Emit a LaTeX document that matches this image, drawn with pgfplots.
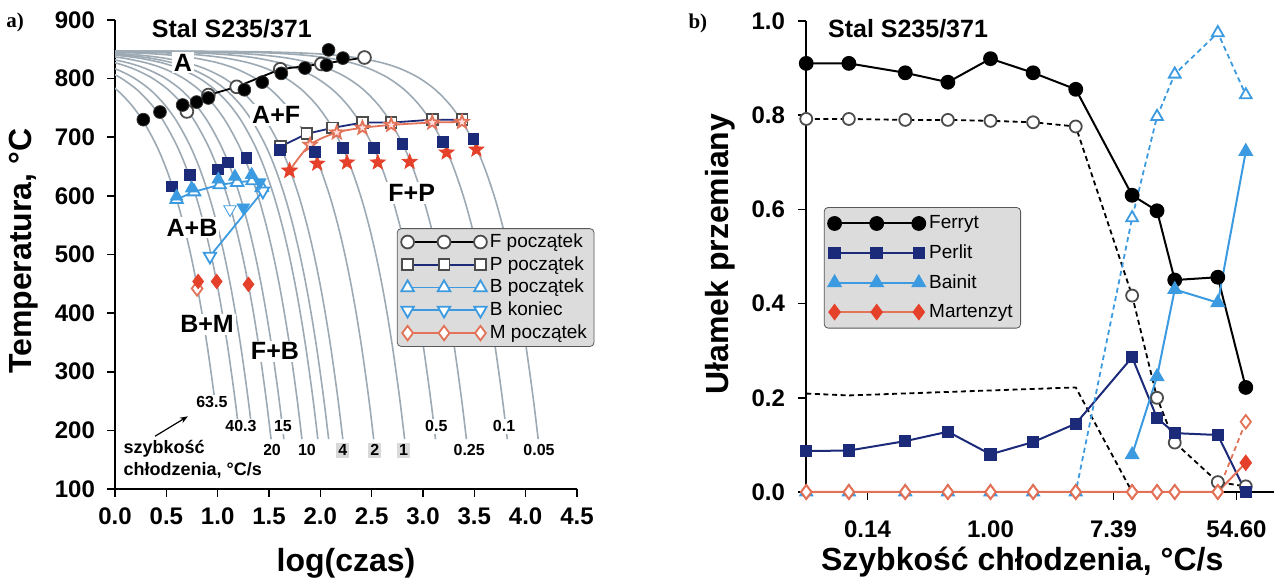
\documentclass[border=0pt]{standalone}
\usepackage{pgfplots}
\pgfplotsset{compat=1.18}
\usepackage{pgfplotstable}
\usepackage{fontspec}
\setmainfont{Liberation Sans}
\newfontfamily\serifb{Liberation Serif}
\usetikzlibrary{arrows.meta}

\definecolor{navy}{HTML}{1C2A7A}
\definecolor{lblue}{HTML}{3C9BE0}
\definecolor{myred}{HTML}{E5402A}
\definecolor{salmon}{HTML}{E27258}
\definecolor{coolc}{HTML}{9DAAB4}
\definecolor{leggray}{HTML}{DCDCDC}

\pgfdeclareplotmark{fstar}{%
  \pgfpathmoveto{\pgfqpointpolar{90}{1.3\pgfplotmarksize}}%
  \pgfpathlineto{\pgfqpointpolar{126}{0.55\pgfplotmarksize}}%
  \pgfpathlineto{\pgfqpointpolar{162}{1.3\pgfplotmarksize}}%
  \pgfpathlineto{\pgfqpointpolar{198}{0.55\pgfplotmarksize}}%
  \pgfpathlineto{\pgfqpointpolar{234}{1.3\pgfplotmarksize}}%
  \pgfpathlineto{\pgfqpointpolar{270}{0.55\pgfplotmarksize}}%
  \pgfpathlineto{\pgfqpointpolar{306}{1.3\pgfplotmarksize}}%
  \pgfpathlineto{\pgfqpointpolar{342}{0.55\pgfplotmarksize}}%
  \pgfpathlineto{\pgfqpointpolar{18}{1.3\pgfplotmarksize}}%
  \pgfpathlineto{\pgfqpointpolar{54}{0.55\pgfplotmarksize}}%
  \pgfpathclose\pgfusepathqfillstroke}

\newcommand\ticfont{\fontsize{12}{12}\selectfont\bfseries}
\newcommand\labfont{\fontsize{16}{16}\selectfont\bfseries}

% base cooling curve: ld = log10(847 - T)
\pgfplotstableread{
ld T
-2.000 846.99
-1.523 846.97
-1.000 846.9
-0.523 846.7
0.000 846
0.301 845
0.602 843
0.845 840
1.079 835
1.301 827
1.477 817
1.653 802
1.813 782
1.954 757
2.079 727
2.204 687
2.301 647
2.398 597
2.477 547
2.544 497
2.602 447
2.653 397
2.699 347
2.724 317
2.748 287
2.771 257
2.789 232
2.806 207
2.821 185
}\coolbase

\newcommand\cool[2]{\addplot[coolc, line width=0.8pt, smooth, forget plot, restrict y to domain=#2:900] table[x expr=\thisrow{ld}-(#1), y=T] {\coolbase};}

\pgfplotsset{
  myaxis/.style={
    scale only axis,
    axis lines*=left,
    axis line style={line width=1.3pt, black},
    tick align=outside,
    major tick length=4pt,
    tick style={line width=0.8pt, black},
    /pgf/number format/assume math mode=true,
    tick label style={font=\ticfont},
    label style={font=\labfont},
  },
}
\tikzset{
  rateL/.style={font=\fontsize{8}{8}\selectfont\bfseries, fill=white, inner sep=1pt},
  rateG/.style={font=\fontsize{8}{8}\selectfont\bfseries, fill=black!15, inner sep=1pt},
  phase/.style={font=\fontsize{12.5}{12.5}\selectfont\bfseries, fill=white, inner sep=1pt},
}

\begin{document}
\begin{tikzpicture}
\path[use as bounding box] (0,0) rectangle (640.5pt,291.5pt);

% ---------------- a) CCT diagram ----------------
\begin{axis}[myaxis,
  at={(57.5pt,47pt)}, anchor=south west,
  width=231pt, height=234.5pt,
  xmin=0, xmax=4.5, ymin=100, ymax=900,
  clip mode=individual,
  xtick={0,0.5,1,1.5,2,2.5,3,3.5,4,4.5},
  ytick={100,200,300,400,500,600,700,800,900},
  xticklabel style={/pgf/number format/fixed, /pgf/number format/fixed zerofill, /pgf/number format/precision=1, yshift=-2pt},
  yticklabel style={xshift=-2.5pt},
  xlabel={log(czas)},
  ylabel={Temperatura, °C},
  xlabel style={at={(axis description cs:0.5,-0.158)}, anchor=center},
  ylabel style={at={(axis description cs:-0.197,0.507)}, anchor=center, rotate=0},
  legend style={at={(axis description cs:0.61,0.556)}, anchor=north west,
    fill=leggray, draw=black!65, rounded corners=2pt,
    font=\fontsize{9.5}{10}\selectfont, inner xsep=2pt, inner ysep=1pt,
    nodes={inner sep=1.5pt}, row sep=0pt},
  legend cell align=left,
  legend image code/.code={\draw[mark repeat=1,mark phase=1,#1] plot coordinates {(0cm,0cm) (0.64cm,0cm) (1.28cm,0cm)};},
]
% cooling curves (log10 of rate, lower end temperature)
\cool{1.803}{256}
\cool{1.605}{206}
\cool{1.477}{206}
\cool{1.301}{184}
\cool{1.176}{184}
\cool{1.000}{184}
\cool{0.845}{184}
\cool{0.740}{184}
\cool{0.602}{184}
\cool{0.301}{184}
\cool{0.000}{184}
\cool{-0.301}{184}
\cool{-0.602}{184}
\cool{-1.000}{184}
\cool{-1.301}{184}

% legend series
\addplot[black, line width=0.9pt, mark=*, mark size=3.2pt, mark options={fill=white, draw=black!70}]
  coordinates {(0.70,744) (0.91,772) (1.185,786) (1.61,816) (2.01,825) (2.43,836)};
\addlegendentry{F początek}
\addplot[navy, line width=0.9pt, mark=square*, mark size=2.7pt, mark options={fill=white, draw=black!70}]
  coordinates {(1.61,684) (1.87,706) (2.12,716) (2.41,725) (2.69,725) (3.09,730) (3.38,730)};
\addlegendentry{P początek}
\addplot[lblue, line width=0.9pt, mark=triangle*, mark size=3.6pt, mark options={fill=white, draw=lblue}]
  coordinates {(0.60,594) (0.77,607) (1.02,619) (1.19,623) (1.34,626) (1.43,614)};
\addlegendentry{B początek}
\addplot[lblue, line width=0.9pt, mark=triangle*, mark size=3.6pt, mark options={fill=white, draw=lblue, rotate=180}]
  coordinates {(0.925,497) (1.44,608)};
\addlegendentry{B koniec}
\addplot[salmon, line width=0.9pt, mark=diamond*, mark size=3.6pt, mark options={fill=white, draw=salmon}]
  coordinates {(0.80,442)};
\addlegendentry{M początek}

% measured points
\addplot[forget plot, salmon, line width=0.9pt, smooth, mark=fstar, mark size=2.6pt, mark options={fill=pink!50!white, draw=salmon}]
  coordinates {(1.70,643) (1.90,687) (2.16,708) (2.41,716) (2.69,721) (3.09,725) (3.38,726)};
\addplot[forget plot, only marks, mark=fstar, mark size=3pt, mark options={fill=myred, draw=myred}]
  coordinates {(1.70,643) (1.97,655) (2.26,657) (2.56,657) (2.87,658) (3.23,674) (3.52,679)};
\addplot[forget plot, only marks, mark=square*, mark size=2.7pt, mark options={fill=navy, draw=navy}]
  coordinates {(1.61,679) (1.95,675) (2.22,682) (2.52,682) (2.80,689) (3.19,692) (3.49,697)
               (0.555,616) (0.73,636) (1.00,645) (1.10,657) (1.28,665)};
\addplot[forget plot, only marks, mark=*, mark size=3.2pt, mark options={fill=black, draw=black!80}]
  coordinates {(0.276,730) (0.438,743) (0.659,755) (0.795,760) (0.909,767) (1.26,781) (1.434,794)
               (1.62,809) (1.85,818) (2.06,823) (2.08,849) (2.22,835)};
\addplot[forget plot, only marks, mark=triangle*, mark size=3.6pt, mark options={fill=lblue, draw=lblue}]
  coordinates {(0.60,599) (0.747,613) (1.006,628) (1.168,633) (1.331,636)};
\addplot[forget plot, only marks, mark=triangle*, mark size=3.6pt, mark options={fill=lblue, draw=lblue, rotate=180}]
  coordinates {(1.25,580) (1.41,623)};
\addplot[forget plot, only marks, mark=triangle*, mark size=3.6pt, mark options={fill=white, draw=lblue, rotate=180}]
  coordinates {(1.12,577)};
\addplot[forget plot, only marks, mark=diamond*, mark size=3.6pt, mark options={fill=myred, draw=myred}]
  coordinates {(0.81,454) (0.99,454) (1.30,449)};

% phase labels
\node[phase] at (axis cs:0.662,827) {A};
\node[phase] at (axis cs:1.57,738) {A+F};
\node[phase] at (axis cs:2.89,605) {F+P};
\node[phase] at (axis cs:0.75,546) {A+B};
\node[phase] at (axis cs:0.896,381) {B+M};
\node[phase] at (axis cs:1.558,335) {F+B};

% cooling rate labels
\node[rateL] at (axis cs:0.944,248) {63.5};
\node[rateL] at (axis cs:1.227,207) {40.3};
\node[rateL] at (axis cs:1.636,207) {15};
\node[rateL] at (axis cs:1.529,166) {20};
\node[rateL] at (axis cs:1.87,166) {10};
\node[rateG] at (axis cs:2.22,166) {4};
\node[rateG] at (axis cs:2.53,166) {2};
\node[rateG] at (axis cs:2.81,166) {1};
\node[rateL] at (axis cs:3.13,207) {0.5};
\node[rateL] at (axis cs:3.45,166) {0.25};
\node[rateL] at (axis cs:3.79,207) {0.1};
\node[rateL] at (axis cs:4.13,166) {0.05};
\node[anchor=north west, align=left, font=\fontsize{9}{11}\selectfont\bfseries, fill=white, inner sep=1pt]
  at (axis cs:0.06,187) {szybkość\\chłodzenia, °C/s};
\draw[-{Stealth[length=4pt]}, line width=0.6pt] (axis cs:0.39,190) -- (axis cs:0.71,224);

\node[font=\fontsize{12.5}{12.5}\selectfont\bfseries] at (axis description cs:0.253,0.981) {Stal S235/371};
\node[font={\serifb\fontsize{10.5}{10.5}\selectfont\bfseries}] at (axis description cs:-0.216,0.994) {a)};
\end{axis}

% ---------------- b) fractions ----------------
\begin{axis}[myaxis,
  at={(403pt,45.5pt)}, anchor=south west,
  width=234pt, height=235.5pt,
  xmin=-3, xmax=4.61, ymin=0, ymax=1,
  clip=false,
  xtick={-2,0,2,4}, xticklabels={0.14,1.00,7.39,54.60},
  ytick={0,0.2,0.4,0.6,0.8,1.0},
  yticklabel style={/pgf/number format/fixed, /pgf/number format/fixed zerofill, /pgf/number format/precision=1, xshift=-3pt},
  xticklabel style={yshift=-7pt},
  xlabel={Szybkość chłodzenia, °C/s},
  ylabel={Ułamek przemiany},
  xlabel style={at={(axis description cs:0.462,-0.149)}, anchor=center},
  ylabel style={at={(axis description cs:-0.184,0.505)}, anchor=center, rotate=0},
  legend style={at={(axis description cs:0.038,0.605)}, anchor=north west,
    fill=leggray, draw=black!65, rounded corners=2pt,
    font=\fontsize{9.5}{10}\selectfont, inner xsep=2pt, inner ysep=2pt,
    nodes={inner sep=2pt}, row sep=2.5pt},
  legend cell align=left,
  legend image code/.code={\draw[mark repeat=1,mark phase=1,#1] plot coordinates {(0cm,0cm) (0.74cm,0cm) (1.48cm,0cm)};},
]
\addplot[forget plot, black, line width=0.9pt, dash pattern=on 2.5pt off 1.8pt]
  coordinates {(-2.996,0.209) (-2.303,0.205) (1.386,0.222) (2.303,0) (4.151,0)};
\addplot[forget plot, black, line width=0.9pt, dash pattern=on 2.5pt off 1.8pt, mark=*, mark size=3pt, mark options={solid, fill=white, draw=black!70}]
  coordinates {(-2.996,0.792) (-2.303,0.792) (-1.386,0.79) (-0.693,0.79) (0,0.788) (0.693,0.785) (1.386,0.776)
               (2.303,0.417) (2.708,0.2) (2.996,0.105) (3.696,0.021) (4.151,0.012)};
\addplot[black, line width=1pt, mark=*, mark size=3.2pt, mark options={fill=black}]
  coordinates {(-2.996,0.91) (-2.303,0.91) (-1.386,0.89) (-0.693,0.87) (0,0.92) (0.693,0.89) (1.386,0.855)
               (2.303,0.63) (2.708,0.597) (2.996,0.45) (3.696,0.456) (4.151,0.222)};
\addlegendentry{Ferryt}
\addplot[navy, line width=1pt, mark=square*, mark size=2.6pt, mark options={fill=navy, draw=navy}]
  coordinates {(-2.996,0.087) (-2.303,0.088) (-1.386,0.108) (-0.693,0.128) (0,0.08) (0.693,0.106) (1.386,0.145)
               (2.303,0.286) (2.708,0.157) (2.996,0.125) (3.696,0.121) (4.151,0)};
\addlegendentry{Perlit}
\addplot[forget plot, lblue, line width=0.9pt, dash pattern=on 2.5pt off 1.8pt, mark=triangle*, mark size=3.4pt, mark options={solid, fill=white, draw=lblue}]
  coordinates {(-2.996,0) (-2.303,0) (-1.386,0) (-0.693,0) (0,0) (0.693,0) (1.386,0)
               (2.303,0.582) (2.708,0.797) (2.996,0.887) (3.696,0.975) (4.151,0.843)};
\addplot[lblue, line width=1pt, mark=triangle*, mark size=3.4pt, mark options={fill=lblue, draw=lblue}]
  coordinates {(2.303,0.079) (2.708,0.245) (2.996,0.43) (3.696,0.402) (4.151,0.723)};
\addlegendentry{Bainit}
\addplot[salmon, line width=1pt, mark=diamond*, mark size=3.4pt, mark options={fill=myred, draw=myred}]
  coordinates {(-2.996,0) (-2.303,0) (-1.386,0) (-0.693,0) (0,0) (0.693,0) (1.386,0)
               (2.303,0) (2.708,0) (2.996,0) (3.696,0) (4.151,0.062)};
\addlegendentry{Martenzyt}
\addplot[forget plot, salmon, line width=0.9pt, dash pattern=on 2.5pt off 1.8pt, mark=diamond*, mark size=3.4pt, mark options={solid, fill=white, draw=salmon}]
  coordinates {(-2.996,0) (-2.303,0) (-1.386,0) (-0.693,0) (0,0) (0.693,0) (1.386,0)
               (2.303,0) (2.708,0) (2.996,0) (3.696,0) (4.151,0.149)};

\node[font=\fontsize{12.5}{12.5}\selectfont\bfseries] at (axis description cs:0.218,0.983) {Stal S235/371};
\node[font={\serifb\fontsize{10.5}{10.5}\selectfont\bfseries}] at (axis description cs:-0.231,0.995) {b)};
\end{axis}
\end{tikzpicture}
\end{document}
